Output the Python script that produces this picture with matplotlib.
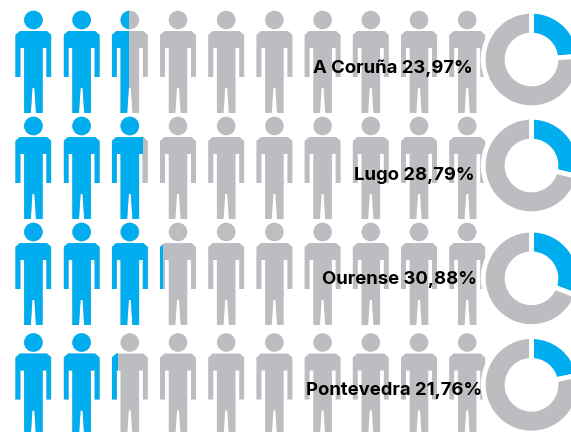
import matplotlib
matplotlib.use("Agg")
import matplotlib.pyplot as plt
from matplotlib.patches import Circle, Polygon, Rectangle, Wedge

# DATOS
PROVINCES = ["A Coruña", "Lugo", "Ourense", "Pontevedra"]
LABELS = ["23,97%", "28,79%", "30,88%", "21,76%"]
SHARES = [23.97, 28.79, 30.88, 21.76]
# how many of the ten figures are painted blue in the picture
FILLED = [2.47, 2.88, 3.09, 2.18]

BLUE = "#00AEEF"
GREY = "#BCBDC0"
FIG_W, FIG_H = 571, 432
ROW_Y = [0, 106, 212, 322.5]
PERSON_X = [33.4, 81.6, 129.8, 178, 226.2, 274.4, 322.6, 370.8, 419, 467.2]
TEXT_RIGHT = [472.7, 475, 477.3, 481.7]
TEXT_BASE = [73.3, 180, 284.3, 395]
DONUT_X = 531.5
DONUT_Y = [59.5, 165.5, 278.3, 384.8]

# contorno de la figura, relativo al centro (x) y a la fila (y)
BODY = [(-13.5, 31), (13.5, 31), (18, 35), (18, 77), (13, 77), (13, 48), (9.3, 48),
        (9.3, 113), (2.6, 113), (1, 88), (-1, 88), (-2.6, 113), (-9.3, 113), (-9.3, 48),
        (-13, 48), (-13, 77), (-18, 77), (-18, 35)]


def draw_person(ax, cx, top, color, clip=None):
    body = Polygon([(cx + x, top + y) for x, y in BODY], closed=True, fc=color, ec="none")
    head = Circle((cx, top + 20), 9.3, fc=color, ec="none")
    for patch in (body, head):
        ax.add_patch(patch)
        if clip is not None:
            patch.set_clip_path(clip)


def draw_row(ax, row):
    top = ROW_Y[row]
    for i, cx in enumerate(PERSON_X):
        draw_person(ax, cx, top, GREY)
        frac = min(max(FILLED[row] - i, 0), 1)
        if frac > 0:
            clip = Rectangle((cx - 18, top), 36 * frac, 120, transform=ax.transData)
            draw_person(ax, cx, top, BLUE, clip)

    # el eje y va invertido, por eso los angulos se miden hacia abajo
    cy = DONUT_Y[row]
    end = -90 + SHARES[row] * 3.6
    ax.add_patch(Wedge((DONUT_X, cy), 48.3, -90, end, width=23.9, fc=BLUE, ec="white", lw=3.5, zorder=3))
    ax.add_patch(Wedge((DONUT_X, cy), 48.3, end, 270, width=23.9, fc=GREY, ec="white", lw=3.5, zorder=3))

    ax.text(TEXT_RIGHT[row], TEXT_BASE[row], f"{PROVINCES[row]} {LABELS[row]}", ha="right", va="baseline",
            fontsize=13.3, fontweight="bold", family="Inter", color="black", zorder=5)


fig = plt.figure(figsize=(FIG_W / 100, FIG_H / 100), dpi=100)
ax = fig.add_axes([0, 0, 1, 1])
ax.set_xlim(0, FIG_W)
ax.set_ylim(FIG_H, 0)
ax.axis("off")

for row in range(len(PROVINCES)):
    draw_row(ax, row)

fig.savefig("out.png", dpi=100)
